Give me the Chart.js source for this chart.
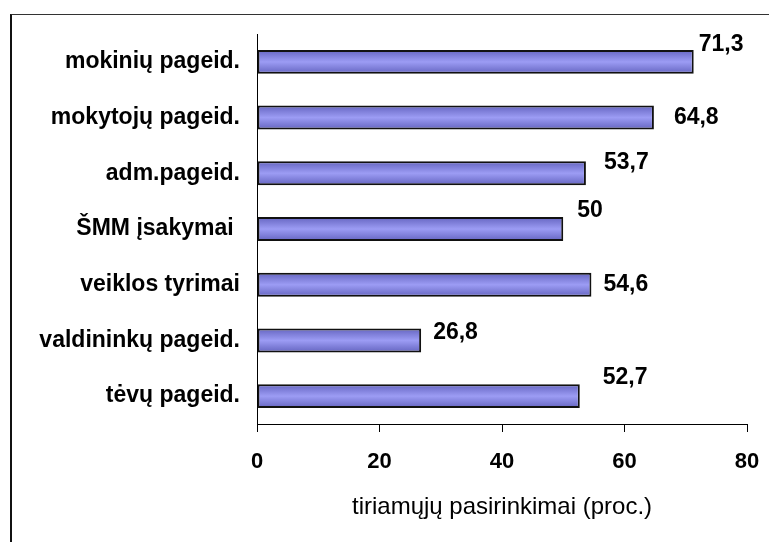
<!DOCTYPE html>
<html>
<head>
<meta charset="utf-8">
<script src="https://cdn.jsdelivr.net/npm/chart.js@4"></script>
<style>
  html, body { margin: 0; padding: 0; background: #fff; }
  #wrap { position: relative; width: 769px; height: 542px; overflow: hidden; }
  #frame { position: absolute; left: 10px; top: 14px; width: 800px; height: 600px;
           border-top: 1px solid #333; border-left: 2px solid #111; }
  canvas { position: absolute; left: 0; top: 0; }
</style>
</head>
<body>
<div id="wrap">
  <div id="frame"></div>
  <canvas id="grafikas" width="769" height="542"></canvas>
</div>
<script>
const kategorijos = ['mokinių pageid.', 'mokytojų pageid.', 'adm.pageid.', 'ŠMM įsakymai ', 'veiklos tyrimai', 'valdininkų pageid.', 'tėvų pageid.'];
const reiksmes = [71.3, 64.8, 53.7, 50, 54.6, 26.8, 52.7];
const xTikai = [0, 20, 40, 60, 80];

// label nudges (px) relative to bar end, as placed in the original
const zymiuPoslinkis = [[5, -17], [20, 0], [18, -11], [14, -18], [12, 0], [12, -8], [23, -18]];

const sriftas = "'Liberation Sans', Arial, sans-serif";

const reiksmiuZymes = {
  id: 'reiksmiuZymes',
  afterDatasetsDraw(chart) {
    const ctx = chart.ctx;
    const meta = chart.getDatasetMeta(0);
    ctx.save();
    ctx.font = 'bold 23px ' + sriftas;
    ctx.fillStyle = '#000';
    ctx.textAlign = 'left';
    ctx.textBaseline = 'middle';
    meta.data.forEach((bar, i) => {
      const p = zymiuPoslinkis[i];
      ctx.fillText(String(reiksmes[i]).replace('.', ','), bar.x + p[0], bar.y + p[1]);
    });
    ctx.restore();
  }
};

new Chart(document.getElementById('grafikas'), {
  type: 'bar',
  data: {
    labels: kategorijos,
    datasets: [{
      data: reiksmes,
      backgroundColor: (c) => {
        const chart = c.chart;
        const sc = chart.scales.y;
        const y = sc ? sc.getPixelForValue(c.dataIndex) : NaN;
        if (!isFinite(y)) return '#8888e0';
        const g = chart.ctx.createLinearGradient(0, y - 12, 0, y + 12);
        g.addColorStop(0, '#6464c0');
        g.addColorStop(0.5, '#9c9cf4');
        g.addColorStop(1, '#6464c0');
        return g;
      },
      borderColor: '#111',
      borderWidth: 2,
      borderSkipped: false,
      barPercentage: 0.43,
      categoryPercentage: 1
    }]
  },
  options: {
    indexAxis: 'y',
    responsive: false,
    animation: false,
    layout: { padding: { top: 34, right: 22, bottom: 20, left: 0 } },
    plugins: {
      legend: { display: false },
      tooltip: { enabled: false }
    },
    scales: {
      x: {
        min: 0,
        max: 80,
        afterBuildTicks: (s) => { s.ticks = xTikai.map(v => ({ value: v })); },
        afterFit: (s) => { s.height = 98; s.paddingLeft = 0; s.paddingRight = 0; },
        grid: { drawOnChartArea: false, drawTicks: true, tickLength: 8, color: '#000', lineWidth: 1 },
        border: { display: true, color: '#000', width: 1 },
        ticks: { color: '#000', padding: 17, font: { family: sriftas, size: 22, weight: 'bold' } },
        title: {
          display: true,
          text: 'tiriamųjų pasirinkimai (proc.)',
          color: '#000',
          padding: { top: 0, bottom: 0 },
          font: { family: sriftas, size: 24 }
        }
      },
      y: {
        afterFit: (s) => { s.width = 257; s.paddingTop = 0; s.paddingBottom = 0; },
        grid: { display: false, drawTicks: false },
        border: { display: true, color: '#000', width: 1 },
        ticks: { color: '#000', padding: 17, font: { family: sriftas, size: 23, weight: 'bold' } }
      }
    }
  },
  plugins: [reiksmiuZymes]
});
</script>
</body>
</html>
